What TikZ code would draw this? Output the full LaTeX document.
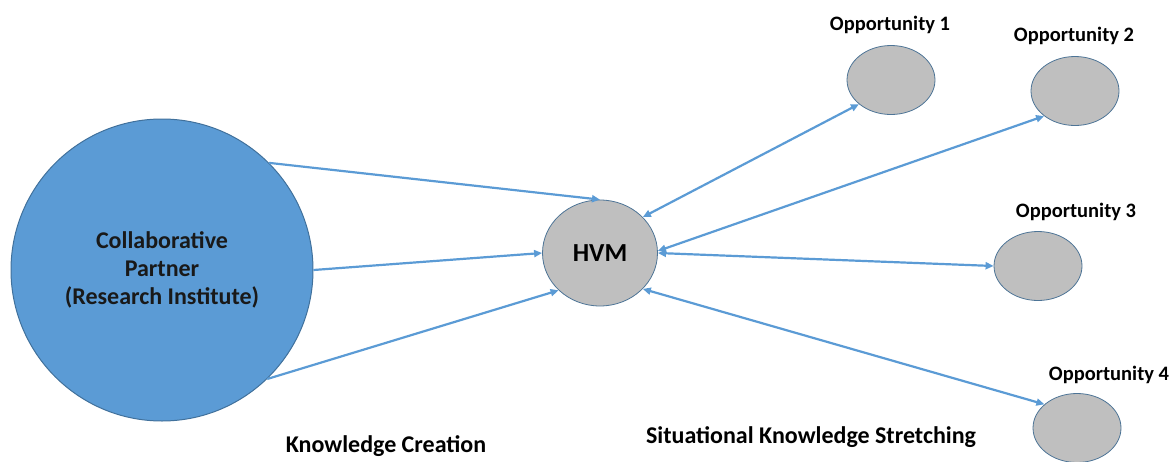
\documentclass[tikz,border=0pt]{standalone}
\usepackage{fontspec}
\setmainfont{Carlito}
\usetikzlibrary{shapes.geometric,arrows.meta}
\definecolor{lineblue}{HTML}{5B9BD5}
\definecolor{edgeblue}{HTML}{41719C}
\definecolor{oppgray}{HTML}{BFBFBF}
\tikzset{
  x=1pt, y=-1pt,
  bigcirc/.style={circle, draw=edgeblue, line width=1pt, fill=lineblue, minimum size=302pt, inner sep=0pt,
    align=center, font=\bfseries\fontsize{24}{28}\selectfont, text=black!90},
  hvmnode/.style={ellipse, draw=edgeblue!80!gray, line width=0.8pt, fill=oppgray, minimum width=115pt, minimum height=106pt, inner sep=0pt,
    font=\bfseries\fontsize{26}{30}\selectfont},
  oppnode/.style={ellipse, draw=edgeblue!80!gray, line width=0.8pt, fill=oppgray, minimum width=88pt, minimum height=69pt, inner sep=0pt},
  lbl/.style={anchor=base, font=\bfseries\fontsize{20.5}{24}\selectfont, inner sep=0pt},
  biglbl/.style={anchor=base, font=\bfseries\fontsize{24}{28}\selectfont, inner sep=0pt},
  conn/.style={draw=lineblue, line width=2.2pt, -{Triangle[length=8pt,width=7pt]}},
  dconn/.style={draw=lineblue, line width=2.2pt, {Triangle[length=8pt,width=7pt]}-{Triangle[length=8pt,width=7pt]}}
}
\begin{document}
\begin{tikzpicture}
\useasboundingbox (0,0) rectangle (1176,461);
\node[bigcirc] (cp) at (162,270) {Collaborative\\Partner\\(Research Institute)};
\node[hvmnode] (hvm) at (600,253) {HVM};
\node[oppnode] (o1) at (891,80) {};
\node[oppnode] (o2) at (1075,91) {};
\node[oppnode] (o3) at (1038,266) {};
\node[oppnode] (o4) at (1077,428) {};
\node[lbl] (l1) at (890,30) {Opportunity 1};
\node[lbl] (l2) at (1074,41) {Opportunity 2};
\node[lbl] (l3) at (1076,217) {Opportunity 3};
\node[lbl] (l4) at (1109,380) {Opportunity 4};
\node[biglbl] (kc) at (386,452) {Knowledge Creation};
\node[biglbl] (sk) at (811,443) {Situational Knowledge Stretching};
\draw[conn] (cp.45.8) -- (hvm.north);
\draw[conn] (cp.0) -- (hvm.west);
\draw[conn] (cp.314.5) -- (hvm.222);
\draw[dconn] (hvm.40) -- (o1.217);
\draw[dconn] (hvm.2) -- (o2.219);
\draw[dconn] (hvm.0) -- (o3.west);
\draw[dconn] (hvm.320) -- (o4.144);
\end{tikzpicture}
\end{document}
